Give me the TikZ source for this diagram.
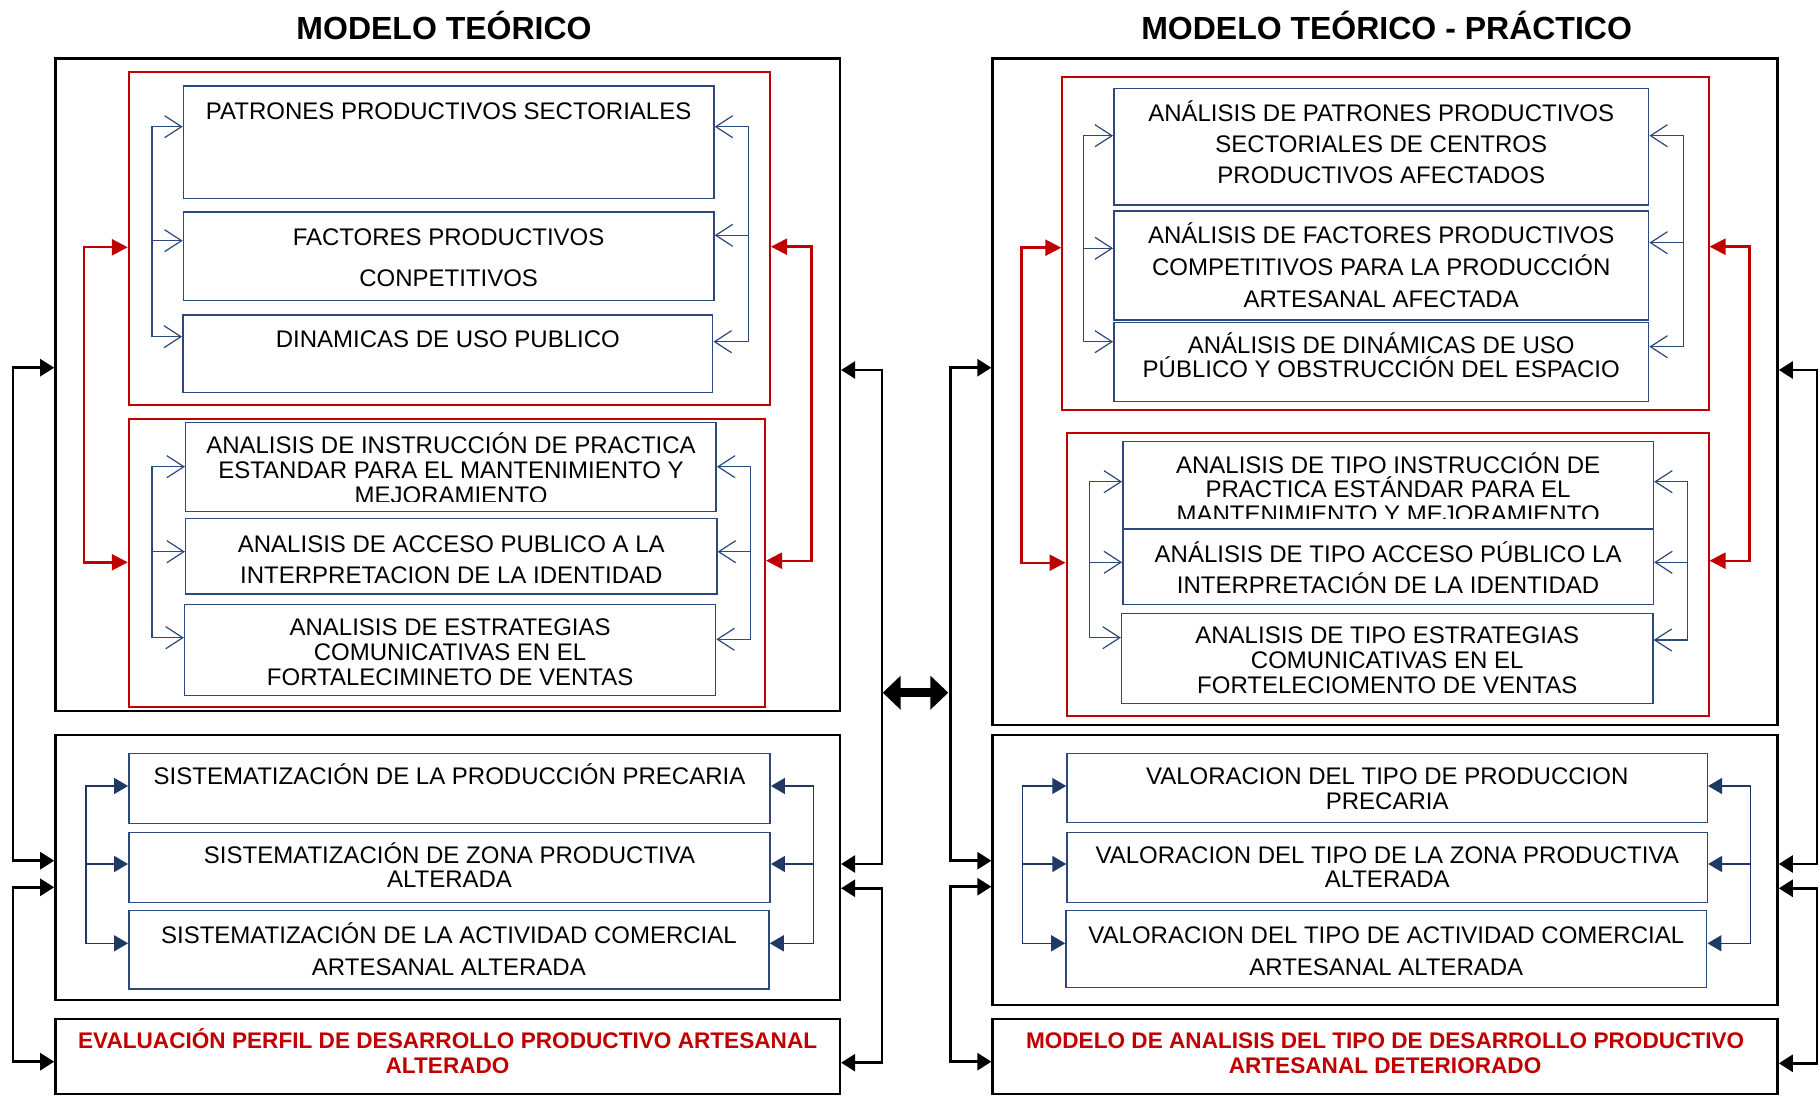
\documentclass[tikz,border=0pt]{standalone}
\usepackage{fontspec}
\setmainfont{Liberation Sans}
\usetikzlibrary{arrows.meta}
\usetikzlibrary{fit}
\definecolor{navy}{RGB}{44,72,124}
\definecolor{navyd}{RGB}{31,56,100}
\definecolor{redd}{RGB}{192,0,0}
\newcommand{\capstrut}{\rule{0pt}{11.5pt}}
\tikzset{
  outer/.style={draw=black, line width=1.3pt, inner sep=0pt},
  redbox/.style={draw=redd, line width=1pt, inner sep=0pt},
  bluebox/.style={draw=navy, line width=.75pt, inner sep=0pt},
  txt/.style={anchor=north, inner sep=0pt, align=center, font=\fontsize{12}{#1}\selectfont},
  txt/.default=12.5,
  rtxt/.style={anchor=north, inner sep=0pt, align=center, text=redd, font=\bfseries\fontsize{11.3}{#1}\selectfont},
  rtxt/.default=12.2,
  ttl/.style={anchor=base, inner sep=0pt, font=\bfseries\fontsize{16}{19}\selectfont},
  oarr/.style={draw=navy, line width=.6pt, >={Straight Barb[length=8.5pt,width=11pt]}},
  farr/.style={draw=navyd, line width=.75pt, >={Triangle[length=7pt,width=8pt]}},
  rarr/.style={draw=redd, line width=1.2pt, >={Triangle[length=8pt,width=8pt]}},
  karr/.style={draw=black, line width=1.3pt, >={Triangle[length=7pt,width=8.5pt]}},
  dbl/.style={draw=black, line width=4.7pt, >={Triangle[length=9pt,width=16.5pt]}}
}
\begin{document}
\begin{tikzpicture}[x=.5pt,y=-.5pt]
\useasboundingbox (0,0) rectangle (1820,1096);
% MODELO TEORICO
\node[ttl] (t1) at (444,39.3) {MODELO TEÓRICO};
\node[outer, fit={(55.5,58.3) (839.8,711)}] (ob1) {};
\node[outer, fit={(55.5,735) (839.8,1000)}] (ob2) {};
\node[outer, fit={(55.5,1019) (839.8,1094)}] (ob3) {};
\node[redbox, fit={(128.8,72.3) (770,405)}] (r1) {};
\node[redbox, fit={(128.8,419.3) (765,707.3)}] (r2) {};
\node[bluebox, fit={(183.4,86) (713.9,198.7)}] (pa) {};
\node[bluebox, fit={(183.4,212) (713.9,300.7)}] (pb) {};
\node[bluebox, fit={(182.8,315) (712.7,392.7)}] (pc) {};
\node[bluebox, fit={(185.7,422.7) (716.2,511.7)}] (pd) {};
\node[bluebox, fit={(185.7,518.3) (716.8,594)}] (pe) {};
\node[bluebox, fit={(184.6,604.3) (715.6,695.7)}] (pf) {};
\node[bluebox, fit={(128.8,753.3) (770.2,823.3)}] (pg) {};
\node[bluebox, fit={(128.8,832.3) (770.2,902.3)}] (ph) {};
\node[bluebox, fit={(128.8,910.7) (769,989)}] (pi) {};

\node[txt] (tpa) at (448.6,96) {\capstrut PATRONES PRODUCTIVOS SECTORIALES};
\node[txt=20.35] (tpb) at (448.6,222) {\capstrut FACTORES PRODUCTIVOS\\CONPETITIVOS};
\node[txt] (tpc) at (447.8,323.7) {\capstrut DINAMICAS DE USO PUBLICO};
\begin{scope}
\coordinate (cd) at (716.2,501);
\clip (pd.north west) rectangle (cd);
\node[txt] (tpd) at (451,429.7) {\capstrut ANALISIS DE INSTRUCCIÓN DE PRACTICA\\ESTANDAR PARA EL MANTENIMIENTO Y\\MEJORAMIENTO};
\end{scope}
\node[txt=15.5] (tpe) at (451.3,528.7) {\capstrut ANALISIS DE ACCESO PUBLICO A LA\\INTERPRETACION DE LA IDENTIDAD};
\node[txt] (tpf) at (450.1,612) {\capstrut ANALISIS DE ESTRATEGIAS\\COMUNICATIVAS EN EL\\FORTALECIMINETO DE VENTAS};
\node[txt] (tpg) at (449.5,761) {\capstrut SISTEMATIZACIÓN DE LA PRODUCCIÓN PRECARIA};
\node[txt=12.35] (tph) at (449.5,839.7) {\capstrut SISTEMATIZACIÓN DE ZONA PRODUCTIVA\\ALTERADA};
\node[txt=16.15] (tpi) at (448.9,919.7) {\capstrut SISTEMATIZACIÓN DE LA ACTIVIDAD COMERCIAL\\ARTESANAL ALTERADA};
\node[rtxt] (tl3) at (447.6,1025.3) {\capstrut EVALUACIÓN PERFIL DE DESARROLLO PRODUCTIVO ARTESANAL\\ALTERADO};

\coordinate (la1) at (152,126.7); \coordinate (la2) at (152,240.7); \coordinate (la3) at (152,336.7);
\draw[oarr,<->] (la1 -| pa.west) -- (la1) -- (la3) -- (la3 -| pc.west);
\draw[oarr,->] (la2) -- (la2 -| pb.west);
\coordinate (ra1) at (748.7,126.7); \coordinate (ra2) at (748.7,235.3); \coordinate (ra3) at (748.7,341.7);
\draw[oarr,<->] (ra1 -| pa.east) -- (ra1) -- (ra3) -- (ra3 -| pc.east);
\draw[oarr,->] (ra2) -- (ra2 -| pb.east);
\coordinate (lb1) at (152,466.7); \coordinate (lb2) at (152,551.7); \coordinate (lb3) at (152,637.7);
\draw[oarr,<->] (lb1 -| pd.west) -- (lb1) -- (lb3) -- (lb3 -| pf.west);
\draw[oarr,->] (lb2) -- (lb2 -| pe.west);
\coordinate (rb1) at (750.4,466.7); \coordinate (rb2) at (750.4,551.7); \coordinate (rb3) at (750.4,639.3);
\draw[oarr,<->] (rb1 -| pd.east) -- (rb1) -- (rb3) -- (rb3 -| pf.east);
\draw[oarr,->] (rb2) -- (rb2 -| pe.east);
\coordinate (lc1) at (85.9,786); \coordinate (lc2) at (85.9,864); \coordinate (lc3) at (85.9,943.3);
\draw[farr,<->] (lc1 -| pg.west) -- (lc1) -- (lc3) -- (lc3 -| pi.west);
\draw[farr,->] (lc2) -- (lc2 -| ph.west);
\coordinate (rc1) at (813.7,786); \coordinate (rc2) at (813.7,864); \coordinate (rc3) at (813.7,943.3);
\draw[farr,<->] (rc1 -| pg.east) -- (rc1) -- (rc3) -- (rc3 -| pi.east);
\draw[farr,->] (rc2) -- (rc2 -| ph.east);

\coordinate (q1) at (84.2,247.3); \coordinate (q2) at (84.2,562.3);
\draw[rarr,<->] (q1 -| r1.west) -- (q1) -- (q2) -- (q2 -| r2.west);
\coordinate (q3) at (811.4,246.7); \coordinate (q4) at (811.4,560.7);
\draw[rarr,<->] (q3 -| r1.east) -- (q3) -- (q4) -- (q4 -| r2.east);

\coordinate (k1) at (12.8,367.7); \coordinate (k2) at (12.8,860.7);
\coordinate (k3) at (12.8,887.3); \coordinate (k4) at (12.8,1061.7);
\draw[karr,<->] (k1 -| ob1.west) -- (k1) -- (k2) -- (k2 -| ob2.west);
\draw[karr,<->] (k3 -| ob2.west) -- (k3) -- (k4) -- (k4 -| ob3.west);
\coordinate (k5) at (882,370); \coordinate (k6) at (882,864);
\coordinate (k7) at (882,888.3); \coordinate (k8) at (882,1062.7);
\draw[karr,<->] (k5 -| ob1.east) -- (k5) -- (k6) -- (k6 -| ob2.east);
\draw[karr,<->] (k7 -| ob2.east) -- (k7) -- (k8) -- (k8 -| ob3.east);

% between the two models
\coordinate (d1) at (882.7,692.7); \coordinate (d2) at (948.3,692.7);
\draw[dbl,<->] (d1) -- (d2);

% MODELO TEORICO - PRACTICO
\node[ttl] (t2) at (1386.6,39.3) {MODELO TEÓRICO - PRÁCTICO};
\node[outer, fit={(992.7,58.3) (1777.5,725)}] (oc1) {};
\node[outer, fit={(992.7,735) (1777.5,1005)}] (oc2) {};
\node[outer, fit={(992.7,1019) (1777.5,1094)}] (oc3) {};
\node[redbox, fit={(1062.3,77.3) (1708.5,410)}] (rp1) {};
\node[redbox, fit={(1066.5,432.7) (1708.5,715.7)}] (rp2) {};
\node[bluebox, fit={(1113.8,88.3) (1648.6,205)}] (pj) {};
\node[bluebox, fit={(1113.8,211) (1648.6,320)}] (pk) {};
\node[bluebox, fit={(1113.8,322.7) (1648.6,401.7)}] (pl) {};
\node[bluebox, fit={(1122.8,441.7) (1653.4,529)}] (pm) {};
\node[bluebox, fit={(1122.8,529) (1653.4,604.3)}] (pn) {};
\node[bluebox, fit={(1121.6,613.7) (1652.8,703.3)}] (po) {};
\node[bluebox, fit={(1067,753.3) (1707.3,822.7)}] (pp) {};
\node[bluebox, fit={(1067,832.7) (1707.3,902.3)}] (pq) {};
\node[bluebox, fit={(1065.9,910.7) (1706.7,987.3)}] (pr) {};

\node[txt=15.65] (tpj) at (1381.2,97.7) {\capstrut ANÁLISIS DE PATRONES PRODUCTIVOS\\SECTORIALES DE CENTROS\\PRODUCTIVOS AFECTADOS};
\node[txt=16] (tpk) at (1381.2,220.3) {\capstrut ANÁLISIS DE FACTORES PRODUCTIVOS\\COMPETITIVOS PARA LA PRODUCCIÓN\\ARTESANAL AFECTADA};
\node[txt=12.3] (tpl) at (1381.2,329.7) {\capstrut ANÁLISIS DE DINÁMICAS DE USO\\PÚBLICO Y OBSTRUCCIÓN DEL ESPACIO};
\begin{scope}
\coordinate (cm) at (1653.4,518.3);
\clip (pm.north west) rectangle (cm);
\node[txt=12.3] (tpm) at (1388.1,449.7) {\capstrut ANALISIS DE TIPO INSTRUCCIÓN DE\\PRACTICA ESTÁNDAR PARA EL\\MANTENIMIENTO Y MEJORAMIENTO};
\end{scope}
\node[txt=15.8] (tpn) at (1388.1,538.7) {\capstrut ANÁLISIS DE TIPO ACCESO PÚBLICO LA\\INTERPRETACIÓN DE LA IDENTIDAD};
\node[txt] (tpo) at (1387.2,620.3) {\capstrut ANALISIS DE TIPO ESTRATEGIAS\\COMUNICATIVAS EN EL\\FORTELECIOMENTO DE VENTAS};
\node[txt] (tpp) at (1387.2,761) {\capstrut VALORACION DEL TIPO DE PRODUCCION\\PRECARIA};
\node[txt=12.3] (tpq) at (1387.2,839.7) {\capstrut VALORACION DEL TIPO DE LA ZONA PRODUCTIVA\\ALTERADA};
\node[txt=16.15] (tpr) at (1386.3,919.7) {\capstrut VALORACION DEL TIPO DE ACTIVIDAD COMERCIAL\\ARTESANAL ALTERADA};
\node[rtxt] (tr3) at (1385.1,1025.3) {\capstrut MODELO DE ANALISIS DEL TIPO DE DESARROLLO PRODUCTIVO\\ARTESANAL DETERIORADO};

\coordinate (ld1) at (1083.8,135.7); \coordinate (ld2) at (1083.8,248.3); \coordinate (ld3) at (1083.8,341.7);
\draw[oarr,<->] (ld1 -| pj.west) -- (ld1) -- (ld3) -- (ld3 -| pl.west);
\draw[oarr,->] (ld2) -- (ld2 -| pk.west);
\coordinate (rd1) at (1683.4,135.7); \coordinate (rd2) at (1683.4,242.7); \coordinate (rd3) at (1683.4,346.7);
\draw[oarr,<->] (rd1 -| pj.east) -- (rd1) -- (rd3) -- (rd3 -| pl.east);
\draw[oarr,->] (rd2) -- (rd2 -| pk.east);
\coordinate (le1) at (1089.8,481.7); \coordinate (le2) at (1089.8,562.3); \coordinate (le3) at (1089.8,637.7);
\draw[oarr,<->] (le1 -| pm.west) -- (le1) -- (le3) -- (le3 -| po.west);
\draw[oarr,->] (le2) -- (le2 -| pn.west);
\coordinate (re1) at (1687.6,481.7); \coordinate (re2) at (1687.6,562.3); \coordinate (re3) at (1687.6,640);
\draw[oarr,<->] (re1 -| pm.east) -- (re1) -- (re3) -- (re3 -| po.east);
\draw[oarr,->] (re2) -- (re2 -| pn.east);
\coordinate (lf1) at (1022.7,786); \coordinate (lf2) at (1022.7,864); \coordinate (lf3) at (1022.7,943.3);
\draw[farr,<->] (lf1 -| pp.west) -- (lf1) -- (lf3) -- (lf3 -| pr.west);
\draw[farr,->] (lf2) -- (lf2 -| pq.west);
\coordinate (rf1) at (1750.5,786); \coordinate (rf2) at (1750.5,864); \coordinate (rf3) at (1750.5,943.3);
\draw[farr,<->] (rf1 -| pp.east) -- (rf1) -- (rf3) -- (rf3 -| pr.east);
\draw[farr,->] (rf2) -- (rf2 -| pq.east);

\coordinate (q5) at (1021.5,247.7); \coordinate (q6) at (1021.5,562.7);
\draw[rarr,<->] (q5 -| rp1.west) -- (q5) -- (q6) -- (q6 -| rp2.west);
\coordinate (q7) at (1749.3,246.7); \coordinate (q8) at (1749.3,560.7);
\draw[rarr,<->] (q7 -| rp1.east) -- (q7) -- (q8) -- (q8 -| rp2.east);

\coordinate (k9) at (950.7,367.7); \coordinate (k10) at (950.7,860.7);
\coordinate (k11) at (950.7,886.7); \coordinate (k12) at (950.7,1061.7);
\draw[karr,<->] (k9 -| oc1.west) -- (k9) -- (k10) -- (k10 -| oc2.west);
\draw[karr,<->] (k11 -| oc2.west) -- (k11) -- (k12) -- (k12 -| oc3.west);
\coordinate (k13) at (1817,370); \coordinate (k14) at (1817,864);
\coordinate (k15) at (1817,888.3); \coordinate (k16) at (1817,1063.3);
\draw[karr,<->] (k13 -| oc1.east) -- (k13) -- (k14) -- (k14 -| oc2.east);
\draw[karr,<->] (k15 -| oc2.east) -- (k15) -- (k16) -- (k16 -| oc3.east);
\end{tikzpicture}
\end{document}
